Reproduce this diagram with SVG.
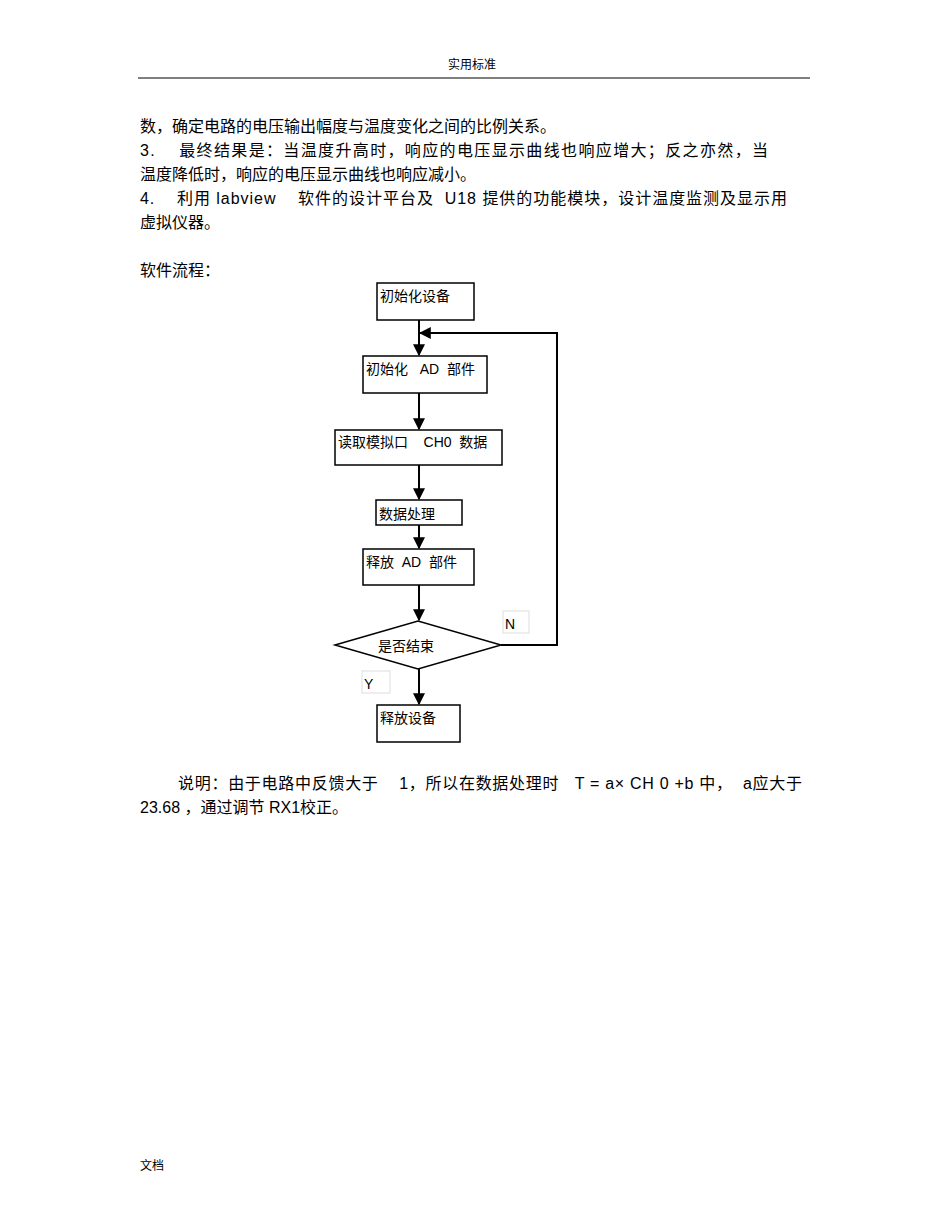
<svg xmlns="http://www.w3.org/2000/svg" width="950" height="1230" viewBox="0 0 950 1230" xml:space="preserve">
<defs>
<style>
text{font-family:"Liberation Sans","Noto Sans CJK SC",sans-serif;fill:#000;white-space:pre}
.b{fill:#fff;stroke:#000;stroke-width:1.5}
.t{font-size:16px}
.n{font-size:14px}
.c{fill:none;stroke:#000;stroke-width:2}
.lb{fill:#fff;stroke:#ddd;stroke-width:1}
</style>
<marker id="a" viewBox="0 0 10 10" refX="9" refY="5" markerWidth="6" markerHeight="6" orient="auto"><path d="M0,0L10,5L0,10z" fill="#000"/></marker>
</defs>
<rect width="950" height="1230" fill="#fff"/>
<text x="472" y="69" font-size="12" text-anchor="middle">实用标准</text>
<line x1="138" y1="78" x2="810" y2="78" stroke="#000" stroke-width="1"/>
<text class="t" x="140" y="132">数，确定电路的电压输出幅度与温度变化之间的比例关系。</text>
<text class="t" x="140" y="156" textLength="628">3.    最终结果是：当温度升高时，响应的电压显示曲线也响应增大；反之亦然，当</text>
<text class="t" x="140" y="180">温度降低时，响应的电压显示曲线也响应减小。</text>
<text class="t" x="140" y="204" textLength="647">4.    利用 labview    软件的设计平台及  U18 提供的功能模块，设计温度监测及显示用</text>
<text class="t" x="140" y="228">虚拟仪器。</text>
<text class="t" x="140" y="276">软件流程：</text>
<g id="connectors">
<line class="c" x1="419" y1="320" x2="419" y2="355" marker-end="url(#a)"/>
<line class="c" x1="419" y1="393" x2="419" y2="429" marker-end="url(#a)"/>
<line class="c" x1="419" y1="465" x2="419" y2="499" marker-end="url(#a)"/>
<line class="c" x1="419" y1="525" x2="419" y2="548" marker-end="url(#a)"/>
<line class="c" x1="419" y1="585" x2="419" y2="620" marker-end="url(#a)"/>
<line class="c" x1="419" y1="669" x2="419" y2="704" marker-end="url(#a)"/>
<polyline class="c" points="501,645 557,645 557,333 420,333" marker-end="url(#a)"/>
</g>
<g id="n1"><rect class="b" x="377" y="283" width="97" height="37"/><text class="n" x="380" y="301">初始化设备</text></g>
<g id="n2"><rect class="b" x="363" y="356" width="124" height="37"/><text class="n" x="366" y="374">初始化   AD  部件</text></g>
<g id="n3"><rect class="b" x="335" y="430" width="167" height="35"/><text class="n" x="338" y="447">读取模拟口    CH0  数据</text></g>
<g id="n4"><rect class="b" x="376" y="500" width="86" height="25"/><text class="n" x="379" y="519">数据处理</text></g>
<g id="n5"><rect class="b" x="363" y="549" width="111" height="36"/><text class="n" x="366" y="567">释放  AD  部件</text></g>
<g id="n6"><polygon class="b" points="335,645 418,621 501,645 418,669"/><text class="n" x="378" y="651">是否结束</text></g>
<g id="lN"><rect class="lb" x="503" y="611" width="26" height="22"/><text class="n" x="505" y="629">N</text></g>
<g id="lY"><rect class="lb" x="362" y="671" width="28" height="22"/><text class="n" x="364" y="689">Y</text></g>
<g id="n7"><rect class="b" x="377" y="705" width="83" height="37"/><text class="n" x="380" y="723">释放设备</text></g>
<text class="t" x="178" y="789" textLength="624">说明：由于电路中反馈大于    1，所以在数据处理时   T = a× CH 0 +b 中，  a应大于</text>
<text class="t" x="140" y="813">23.68 ，通过调节 RX1校正。</text>
<text x="140" y="1170" font-size="12">文档</text>
</svg>
